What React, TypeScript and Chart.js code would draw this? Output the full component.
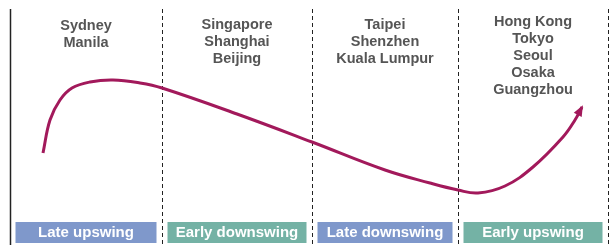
import React, { useEffect, useRef } from "react";
import { Chart, registerables } from "chart.js";
Chart.register(...registerables);

// Cycle curve (x position along the cycle, level of the cycle)
const curveX = [43, 50, 60, 72, 90, 113, 140, 162, 237, 312, 385, 430, 458, 478, 505, 533, 563, 575, 582];
const curveLevel = [92, 125, 145, 157, 163, 165, 162, 157, 131, 103, 75, 62, 55, 52, 59, 78, 108, 125, 138];

// Phase boundaries along the x axis
const boundaries = [10, 162, 312, 458, 608];
const phaseNames = ["Late upswing", "Early downswing", "Late downswing", "Early upswing"];
const phaseColors = ["#7f98cb", "#74b2a5", "#7f98cb", "#74b2a5"];
const phaseCities = [
  ["Sydney", "Manila"],
  ["Singapore", "Shanghai", "Beijing"],
  ["Taipei", "Shenzhen", "Kuala Lumpur"],
  ["Hong Kong", "Tokyo", "Seoul", "Osaka", "Guangzhou"],
];
const cityTopLevel = [219.5, 220, 220, 223];

const CURVE_COLOR = "#a2195b";

const decorPlugin = {
  id: "decor",
  beforeDatasetsDraw(chart: any) {
    const { ctx, scales } = chart;
    const x = scales.x;
    const y = scales.y;
    ctx.save();
    boundaries.forEach((b, i) => {
      const px = Math.round(x.getPixelForValue(b)) + 0.5;
      ctx.beginPath();
      ctx.strokeStyle = "#222";
      if (i === 0) {
        ctx.setLineDash([]);
        ctx.lineWidth = 1.5;
      } else {
        ctx.setLineDash([4, 3]);
        ctx.lineWidth = 1;
      }
      ctx.moveTo(px, y.getPixelForValue(236));
      ctx.lineTo(px, y.getPixelForValue(0));
      ctx.stroke();
    });
    ctx.setLineDash([]);
    // phase boxes
    phaseNames.forEach((name, i) => {
      const l = x.getPixelForValue(boundaries[i]) + 5.5;
      const r = x.getPixelForValue(boundaries[i + 1]) - 5.5;
      const t = y.getPixelForValue(23);
      const btm = y.getPixelForValue(2);
      ctx.fillStyle = phaseColors[i];
      ctx.fillRect(l, t, r - l, btm - t);
      ctx.fillStyle = "#ffffff";
      ctx.font = "bold 15px 'Liberation Sans', Arial, sans-serif";
      ctx.textAlign = "center";
      ctx.textBaseline = "middle";
      ctx.fillText(name, (l + r) / 2, (t + btm) / 2 + 0.5);
    });
    // city labels
    phaseCities.forEach((cities, i) => {
      const cx = (x.getPixelForValue(boundaries[i]) + x.getPixelForValue(boundaries[i + 1])) / 2;
      const top = y.getPixelForValue(cityTopLevel[i]);
      ctx.fillStyle = "#555555";
      ctx.font = "bold 14.5px 'Liberation Sans', Arial, sans-serif";
      ctx.textAlign = "center";
      ctx.textBaseline = "middle";
      cities.forEach((c, j) => {
        ctx.fillText(c, cx, top + j * 17);
      });
    });
    ctx.restore();
  },
  afterDatasetsDraw(chart: any) {
    const { ctx } = chart;
    const pts = chart.getDatasetMeta(0).data;
    const a = pts[pts.length - 2];
    const b = pts[pts.length - 1];
    const ang = Math.atan2(b.y - a.y, b.x - a.x);
    const len = 11;
    const half = 4.5;
    const tipX = b.x + Math.cos(ang) * 2;
    const tipY = b.y + Math.sin(ang) * 2;
    ctx.save();
    ctx.fillStyle = CURVE_COLOR;
    ctx.beginPath();
    ctx.moveTo(tipX, tipY);
    const bx = tipX - Math.cos(ang) * len;
    const by = tipY - Math.sin(ang) * len;
    ctx.lineTo(bx + Math.cos(ang + Math.PI / 2) * half, by + Math.sin(ang + Math.PI / 2) * half);
    ctx.lineTo(bx - Math.cos(ang + Math.PI / 2) * half, by - Math.sin(ang + Math.PI / 2) * half);
    ctx.closePath();
    ctx.fill();
    ctx.restore();
  },
};

export default function App() {
  const ref = useRef<HTMLCanvasElement>(null);
  useEffect(() => {
    document.body.style.margin = "0";
    const chart = new Chart(ref.current as HTMLCanvasElement, {
      type: "line",
      data: {
        datasets: [
          {
            data: curveX.map((v, i) => ({ x: v, y: curveLevel[i] })),
            borderColor: CURVE_COLOR,
            borderWidth: 3,
            pointRadius: 0,
            tension: 0.4,
            fill: false,
            clip: false as any,
          },
        ],
      },
      options: {
        animation: false,
        responsive: true,
        maintainAspectRatio: false,
        layout: { padding: 0 },
        plugins: { legend: { display: false }, tooltip: { enabled: false } },
        scales: {
          x: { type: "linear", min: 0, max: 614, display: false },
          y: { type: "linear", min: 0, max: 245, display: false },
        },
      },
      plugins: [decorPlugin],
    });
    return () => chart.destroy();
  }, []);
  return (
    <div style={{ position: "absolute", left: 0, top: 0, width: 614, height: 245 }}>
      <canvas ref={ref} />
    </div>
  );
}
